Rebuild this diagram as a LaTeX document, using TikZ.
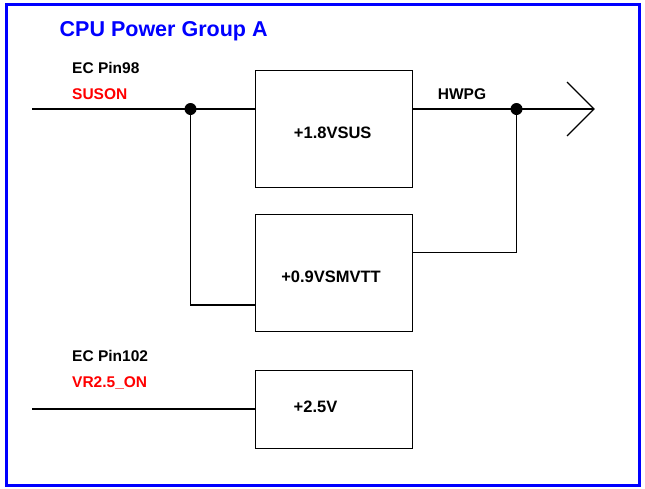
\documentclass[tikz,border=0pt]{standalone}
\usepackage{fontspec}
\setmainfont{Liberation Sans}
\begin{document}
\begin{tikzpicture}[x=1pt,y=-1pt,
  wire/.style={draw=black,line width=1.2pt},
  blk/.style={draw=black,line width=1.3pt,rectangle,minimum width=157pt,minimum height=117pt,inner sep=0pt,anchor=north west},
  jdot/.style={circle,fill=black,inner sep=0pt,minimum size=12pt},
  lbl/.style={font=\bfseries\fontsize{15.5}{17}\selectfont,text=black,inner sep=0pt},
  boxlbl/.style={font=\bfseries\fontsize{16.5}{18}\selectfont,text=black,inner sep=0pt},
  red lbl/.style={lbl,text=red},
  title/.style={font=\bfseries\fontsize{21.5}{24}\selectfont,text=blue,inner sep=0pt}]
\useasboundingbox (0,0) rectangle (645,488);
\draw[blue,line width=3pt] (6.5,4.5) rectangle (639.5,485.5);
\node[title,anchor=base west] (t) at (59.5,36.7) {CPU Power Group A};
% labels
\node[lbl,anchor=base west] (ec98) at (72,73.3) {EC Pin98};
\node[red lbl,anchor=base west] (suson) at (72,99) {SUSON};
\node[lbl,anchor=base west] (ec102) at (72,361) {EC Pin102};
\node[red lbl,anchor=base west] (vr) at (72,387) {VR2.5\_ON};
\node[lbl,anchor=base] (hwpg) at (462,99) {HWPG};
% blocks
\node[blk,minimum height=117pt] (b1) at (254.5,70) {};
\node[blk,minimum height=117pt] (b2) at (254.5,214) {};
\node[blk,minimum height=78pt] (b3) at (254.5,370) {};
\node[boxlbl,anchor=base] (l1) at (332.7,138) {+1.8VSUS};
\node[boxlbl,anchor=base] (l2) at (331,282) {+0.9VSMVTT};
\node[boxlbl,anchor=base] (l3) at (315.5,412.5) {+2.5V};
% junctions
\node[jdot] (d1) at (190.5,109) {};
\node[jdot] (d2) at (516.5,109) {};
\coordinate (in1) at (32,109);
\coordinate (in2) at (32,409);
\coordinate (tip) at (594,109);
\coordinate (c1) at (567,82);
\coordinate (c2) at (567,136);
% wires
\draw[wire] (in1) -- (d1.center) -- (d1 -| b1.west);
\draw[wire] (d1.center) |- (b2.west |- 0,305);
\draw[wire] (d2 -| b1.east) -- (d2.center) -- (tip);
\draw[wire] (d2.center) |- (b2.east |- 0,252.5);
\draw[wire] (c1) -- (tip) -- (c2);
\draw[wire] (in2) -- (in2 -| b3.west);
\end{tikzpicture}
\end{document}
